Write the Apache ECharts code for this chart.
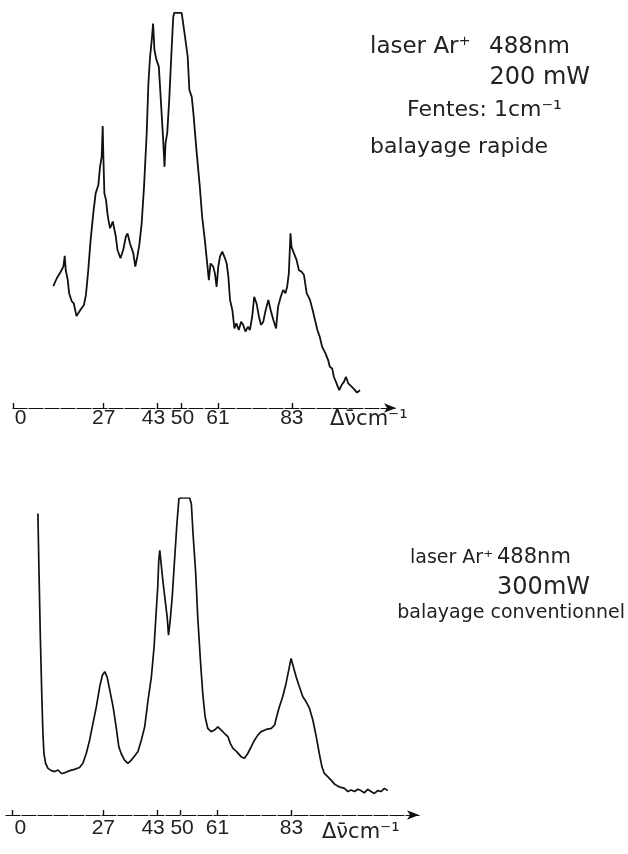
<!DOCTYPE html>
<html>
<head>
<meta charset="utf-8">
<script src="https://cdn.jsdelivr.net/npm/echarts@6/dist/echarts.min.js"></script>
<style>
  html, body { margin: 0; padding: 0; background: #fff; }
  #chart { width: 628px; height: 854px; }
</style>
</head>
<body>
<div id="chart"></div>
<script>
// tick positions on both wavenumber axes (cm-1)
var tickValues = [0, 27, 43, 50, 61, 83];

// top trace: fast scan, 200 mW
var topWavenumber = [12.0, 13.0, 14.2, 15.0, 15.4, 15.7, 16.3, 16.7, 17.5, 18.1, 18.9, 19.7, 20.4, 21.1, 21.7, 22.4, 23.1, 23.9, 24.6, 25.4,
  25.9, 26.4, 26.7, 26.9, 27.2, 27.7, 28.1, 28.4, 28.9, 29.7, 30.2, 30.6, 31.1, 32.0, 32.8, 33.6, 34.1, 34.8, 35.8, 36.4,
  37.0, 37.6, 38.3, 39.0, 39.8, 40.3, 40.8, 41.3, 41.7, 42.1, 42.7, 43.4, 44.0, 44.7, 45.1, 45.4, 45.9, 46.5, 47.2, 47.7,
  48.0, 48.7, 50.2, 50.5, 51.2, 52.0, 52.5, 53.2, 53.7, 54.6, 55.6, 56.3, 57.1, 57.8, 58.3, 58.8, 59.6, 60.1, 60.6, 61.1,
  61.6, 62.3, 63.1, 63.6, 64.1, 64.6, 65.3, 65.9, 66.5, 67.2, 67.9, 68.5, 69.2, 69.9, 70.5, 71.2, 71.8, 72.5, 73.2, 73.8,
  74.5, 75.2, 76.0, 76.7, 77.5, 78.3, 78.9, 79.7, 80.4, 81.1, 81.6, 82.1, 82.6, 82.9, 83.6, 84.4, 85.1, 85.9, 86.6, 87.4,
  88.4, 89.2, 89.9, 90.6, 91.3, 92.0, 93.0, 93.8, 94.3, 95.0, 95.5, 96.3, 97.1, 97.8, 98.5, 99.1, 99.8, 100.8, 101.8, 102.4, 103.3];
var topIntensity = [30.8, 32.7, 34.4, 35.7, 38.4, 34.8, 32.3, 29.0, 26.9, 26.4, 23.2, 24.3, 25.2, 26.0, 28.5, 34.8, 42.4, 49.2, 54.2, 56.3,
  60.9, 63.5, 71.2, 63.5, 54.2, 52.5, 49.2, 47.5, 45.4, 47.1, 46.6, 43.3, 39.9, 37.8, 39.9, 43.3, 44.1, 41.6, 39.1, 35.7,
  38.2, 41.2, 46.6, 55.9, 69.4, 82.0, 88.7, 92.9, 97.1, 90.4, 87.9, 86.2, 77.8, 67.7, 60.9, 66.8, 69.4, 77.8, 90.4, 98.8,
  99.8, 99.8, 99.8, 98.0, 93.8, 88.7, 80.3, 78.6, 74.4, 65.2, 55.9, 48.3, 42.4, 36.5, 32.3, 36.5, 35.7, 34.0, 30.6, 35.7,
  38.2, 39.5, 37.8, 36.5, 33.2, 27.3, 24.7, 20.1, 21.4, 19.7, 21.8, 21.0, 19.3, 20.5, 19.7, 23.1, 28.1, 26.4, 23.1, 21.0,
  21.8, 24.7, 27.3, 24.7, 22.2, 20.1, 25.6, 28.1, 29.8, 29.0, 30.6, 34.0, 44.1, 40.7, 39.1, 37.4, 34.8, 34.4, 33.6, 29.0,
  27.3, 24.7, 22.2, 19.7, 18.0, 15.5, 13.8, 12.1, 10.4, 10.0, 7.9, 6.2, 4.5, 5.8, 6.6, 7.9, 6.2, 5.4, 4.5, 3.9, 4.5];

// bottom trace: conventional scan, 300 mW
var bottomWavenumber = [7.5, 7.8, 8.2, 8.7, 9.0, 9.3, 9.8, 10.5, 11.5, 12.5, 13.5, 14.5, 15.5, 17.0, 18.4, 19.9, 20.9, 21.9, 22.9, 23.9,
  24.9, 25.9, 26.7, 27.4, 28.1, 28.9, 29.9, 30.8, 31.6, 32.3, 33.3, 34.3, 35.3, 36.3, 37.3, 38.3, 39.3, 40.3, 41.3, 42.1,
  42.7, 43.2, 43.5, 43.8, 44.2, 44.7, 45.4, 46.0, 46.4, 46.9, 47.5, 48.2, 48.9, 49.5, 50.2, 51.7, 52.7, 53.2, 53.7, 54.5,
  55.1, 55.9, 56.6, 57.3, 58.1, 59.1, 60.1, 61.1, 62.1, 63.1, 64.1, 64.8, 65.6, 66.7, 68.0, 69.0, 70.0, 71.0, 72.0, 73.0,
  74.0, 75.5, 77.0, 78.0, 78.6, 79.4, 80.4, 81.4, 82.2, 82.9, 83.6, 84.4, 85.4, 86.4, 87.4, 88.4, 89.4, 90.4, 91.3, 92.1,
  92.8, 93.8, 94.8, 95.8, 96.8, 97.8, 98.8, 99.8, 100.8, 101.8, 102.8, 103.7, 104.7, 105.7, 106.7, 107.7, 108.7, 109.7, 110.7, 111.7];
var bottomIntensity = [95.1, 78.3, 57.2, 36.2, 25.7, 19.4, 16.3, 14.7, 14.0, 13.7, 14.2, 13.1, 13.3, 14.0, 14.4, 15.0, 16.3, 19.4, 23.6, 28.9,
  34.1, 40.4, 44.1, 45.2, 43.6, 39.4, 34.1, 27.8, 21.5, 19.4, 17.3, 16.3, 17.3, 18.6, 20.0, 23.6, 27.8, 36.2, 43.6, 53.0,
  63.6, 72.0, 80.4, 83.5, 79.3, 74.1, 67.8, 62.5, 56.7, 61.4, 68.8, 80.4, 91.9, 99.8, 100, 100, 100, 98.2, 88.8, 76.2,
  62.5, 48.8, 38.3, 31.0, 27.3, 26.3, 26.8, 27.8, 26.8, 25.7, 24.7, 22.6, 21.0, 20.0, 18.4, 17.9, 19.4, 21.5, 23.6, 25.2,
  26.3, 27.0, 27.3, 28.4, 31.0, 34.1, 37.3, 41.5, 45.7, 49.4, 46.7, 43.6, 40.4, 37.3, 35.7, 33.6, 29.9, 24.7, 19.4, 15.2,
  13.1, 12.1, 11.0, 9.8, 9.1, 8.7, 8.4, 7.4, 7.9, 7.4, 8.1, 7.7, 7.0, 8.1, 7.4, 6.8, 7.7, 7.4, 8.4, 7.7];

var topNotes = ['laser Ar⁺', '488nm', '200 mW', 'Fentes: 1cm⁻¹', 'balayage rapide'];
var bottomNotes = ['laser Ar⁺', '488nm', '300mW', 'balayage conventionnel'];
var unitLabel = 'Δν̄cm⁻¹';

function pairs(xs, ys) {
  return xs.map(function (x, i) { return [x, ys[i]]; });
}

var ink = '#111';

// nudge crowded tick labels apart, as in the hand-lettered original
function tickLabel(value) {
  if (value === 0) return '{z|0}';
  if (value === 43) return '{l|43}';
  if (value === 50) return '{r|50}';
  return '{n|' + value + '}';
}

function makeXAxis(gridIndex, min, max, margin) {
  var base = { color: '#222', fontFamily: 'Liberation Sans', fontSize: 21 };
  return {
    type: 'value',
    gridIndex: gridIndex,
    min: min,
    max: max,
    splitLine: { show: false },
    axisLine: {
      show: true,
      symbol: ['none', 'arrow'],
      symbolSize: [7, 12],
      lineStyle: { color: ink, width: 1.2, type: [14, 2] }
    },
    axisTick: { show: true, inside: true, length: 5, customValues: tickValues, lineStyle: { color: ink, width: 1.4 } },
    axisLabel: {
      customValues: tickValues,
      margin: margin,
      color: '#222',
      fontFamily: 'Liberation Sans',
      fontSize: 21,
      formatter: tickLabel,
      rich: {
        n: base,
        z: Object.assign({ padding: [0, 0, 0, 15] }, base),
        l: Object.assign({ padding: [0, 8, 0, 0] }, base),
        r: Object.assign({ padding: [0, 0, 0, 3] }, base)
      }
    }
  };
}

function noteText(str, x, y, size, align) {
  return {
    type: 'text',
    x: x,
    y: y,
    style: {
      text: str,
      fill: '#222',
      font: size + 'px "DejaVu Sans"',
      align: align || 'left',
      verticalAlign: 'middle'
    }
  };
}

var chart = echarts.init(document.getElementById('chart'), null, { renderer: 'canvas' });
chart.setOption({
  animation: false,
  backgroundColor: '#fff',
  grid: [
    { left: 13, right: 232, top: 12, bottom: 446 },
    { left: 6, right: 209, top: 498, bottom: 39 }
  ],
  xAxis: [
    makeXAxis(0, 0, 114, 0),
    makeXAxis(1, -2, 121, 3)
  ],
  yAxis: [
    { type: 'value', gridIndex: 0, min: 0, max: 100, show: false },
    { type: 'value', gridIndex: 1, min: 0, max: 100, show: false }
  ],
  series: [
    {
      type: 'line', xAxisIndex: 0, yAxisIndex: 0,
      data: pairs(topWavenumber, topIntensity),
      showSymbol: false,
      lineStyle: { color: ink, width: 1.8 }
    },
    {
      type: 'line', xAxisIndex: 1, yAxisIndex: 1,
      data: pairs(bottomWavenumber, bottomIntensity),
      showSymbol: false,
      lineStyle: { color: ink, width: 1.7 }
    }
  ],
  graphic: [
    noteText(topNotes[0], 370, 47, 23),
    noteText(topNotes[1], 489, 47, 23),
    noteText(topNotes[2], 590, 78, 24, 'right'),
    noteText(topNotes[3], 407, 110, 22),
    noteText(topNotes[4], 370, 147, 22),
    noteText(bottomNotes[0], 410, 558, 19),
    noteText(bottomNotes[1], 497, 558, 21),
    noteText(bottomNotes[2], 590, 588, 24, 'right'),
    noteText(bottomNotes[3], 625, 613, 19, 'right'),
    noteText(unitLabel, 330, 420, 21),
    noteText(unitLabel, 322, 833, 21)
  ]
});
</script>
</body>
</html>
